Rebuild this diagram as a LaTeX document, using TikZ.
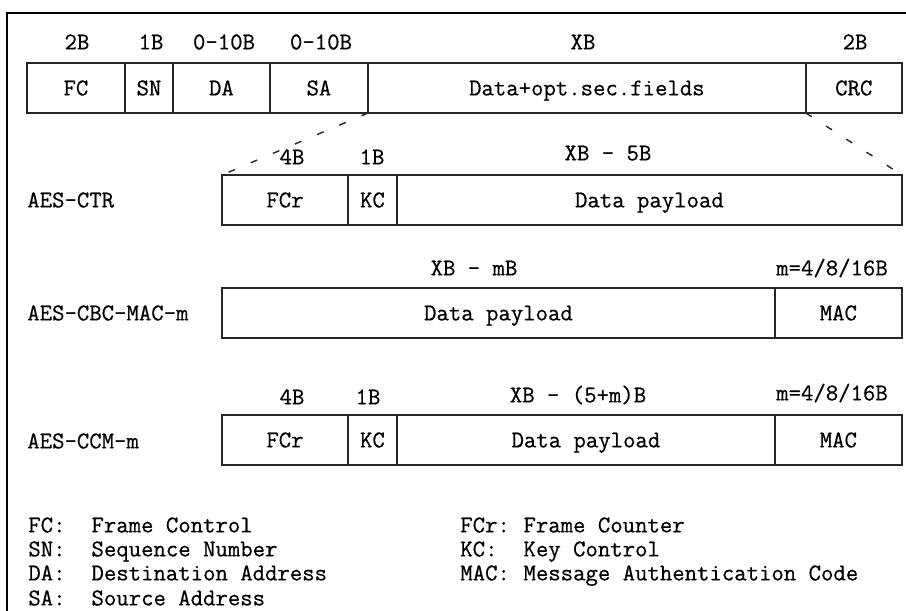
\documentclass[tikz,border=0pt]{standalone}
\usepackage{fontspec}
\setmonofont{Latin Modern Mono}[FakeBold=0.6]
\usetikzlibrary{positioning}

\newcommand{\legendline}[2]{\makebox[2.625em][l]{#1}#2}

\begin{document}
\begin{tikzpicture}[
    x=0.02cm, y=-0.02cm,
    field/.style={rectangle, draw=black!85, line width=0.9pt, inner sep=0pt, outer sep=0pt, minimum height=1cm, font=\ttfamily\fontsize{13.7}{16}\selectfont, text height=8.4pt, text depth=0pt},
    size/.style={inner sep=0pt, font=\ttfamily\fontsize{13.7}{16}\selectfont, text height=8.4pt, text depth=0pt},
    rowname/.style={size, anchor=west},
    legend/.style={size, anchor=west},
    zoomline/.style={draw=black!85, line width=0.8pt, dash pattern=on 4pt off 9.7pt},
    frame/.style={draw=black, line width=1.1pt}
]

% Canvas and outer frame
\useasboundingbox (0,0) rectangle (906,610);
\clip (0,0) rectangle (906,610);
\draw[frame] (7,13) rectangle (930,640);

% 1. Frame layout
\node[field, minimum width=1.96cm, anchor=north west] (fc) at (27,63) {FC};
\node[field, minimum width=0.96cm, right=0pt of fc] (sn) {SN};
\node[field, minimum width=1.94cm, right=0pt of sn] (da) {DA};
\node[field, minimum width=1.96cm, right=0pt of da] (sa) {SA};
\node[field, minimum width=8.76cm, right=0pt of sa] (data) {Data+opt.sec.fields};
\node[field, minimum width=1.92cm, right=0pt of data] (crc) {CRC};

\node[size] (fc_len) at (77,42) {2B};
\node[size] (sn_len) at (151,42) {1B};
\node[size] (da_len) at (224,42) {0-10B};
\node[size] (sa_len) at (321,42) {0-10B};
\node[size] (data_len) at (583,42) {XB};
\node[size] (crc_len) at (855,42) {2B};

% 2. AES-CTR
\node[rowname] (ctr) at (27,200) {AES-CTR};
\node[field, minimum width=2.52cm, anchor=north west] (ctr_fcr) at (222,175) {FCr};
\node[field, minimum width=0.98cm, right=0pt of ctr_fcr] (ctr_kc) {KC};
\node[field, minimum width=10.1cm, right=0pt of ctr_kc] (ctr_data) {Data payload};

\node[size] (ctr_fcr_len) at (292,157) {4B};
\node[size] (ctr_kc_len) at (372,157) {1B};
\node[size] (ctr_data_len) at (608,153) {XB - 5B};

% 3. AES-CBC-MAC-m
\node[rowname] (cbc) at (27,313) {AES-CBC-MAC-m};
\node[field, minimum width=11.06cm, anchor=north west] (cbc_data) at (222,288) {Data payload};
\node[field, minimum width=2.54cm, right=0pt of cbc_data] (cbc_mac) {MAC};

\node[size] (cbc_data_len) at (474,268) {XB - mB};
\node[size] (cbc_mac_len) at (832,268) {m=4/8/16B};

% 4. AES-CCM-m
\node[rowname] (ccm) at (27,441) {AES-CCM-m};
\node[field, minimum width=2.52cm, anchor=north west] (ccm_fcr) at (222,415) {FCr};
\node[field, minimum width=0.98cm, right=0pt of ccm_fcr] (ccm_kc) {KC};
\node[field, minimum width=7.56cm, right=0pt of ccm_kc] (ccm_data) {Data payload};
\node[field, minimum width=2.54cm, right=0pt of ccm_data] (ccm_mac) {MAC};

\node[size] (ccm_fcr_len) at (292,397) {4B};
\node[size] (ccm_kc_len) at (368,397) {1B};
\node[size] (ccm_data_len) at (578,395) {XB - (5+m)B};
\node[size] (ccm_mac_len) at (832,393) {m=4/8/16B};

% Zoom lines from the payload field
\draw[zoomline] (sa.south east) -- (ctr_fcr.north west);
\draw[zoomline] (data.south east) -- (ctr_data.north east);

% Abbreviations
\node[legend] (lg_fc) at (28,525) {\legendline{FC:}{Frame Control}};
\node[legend] (lg_sn) at (28,549) {\legendline{SN:}{Sequence Number}};
\node[legend] (lg_da) at (28,573) {\legendline{DA:}{Destination Address}};
\node[legend] (lg_sa) at (28,598) {\legendline{SA:}{Source Address}};
\node[legend] (lg_fcr) at (460,525) {\legendline{FCr:}{Frame Counter}};
\node[legend] (lg_kc) at (460,549) {\legendline{KC:}{Key Control}};
\node[legend] (lg_mac) at (460,573) {\legendline{MAC:}{Message Authentication Code}};

\end{tikzpicture}
\end{document}
